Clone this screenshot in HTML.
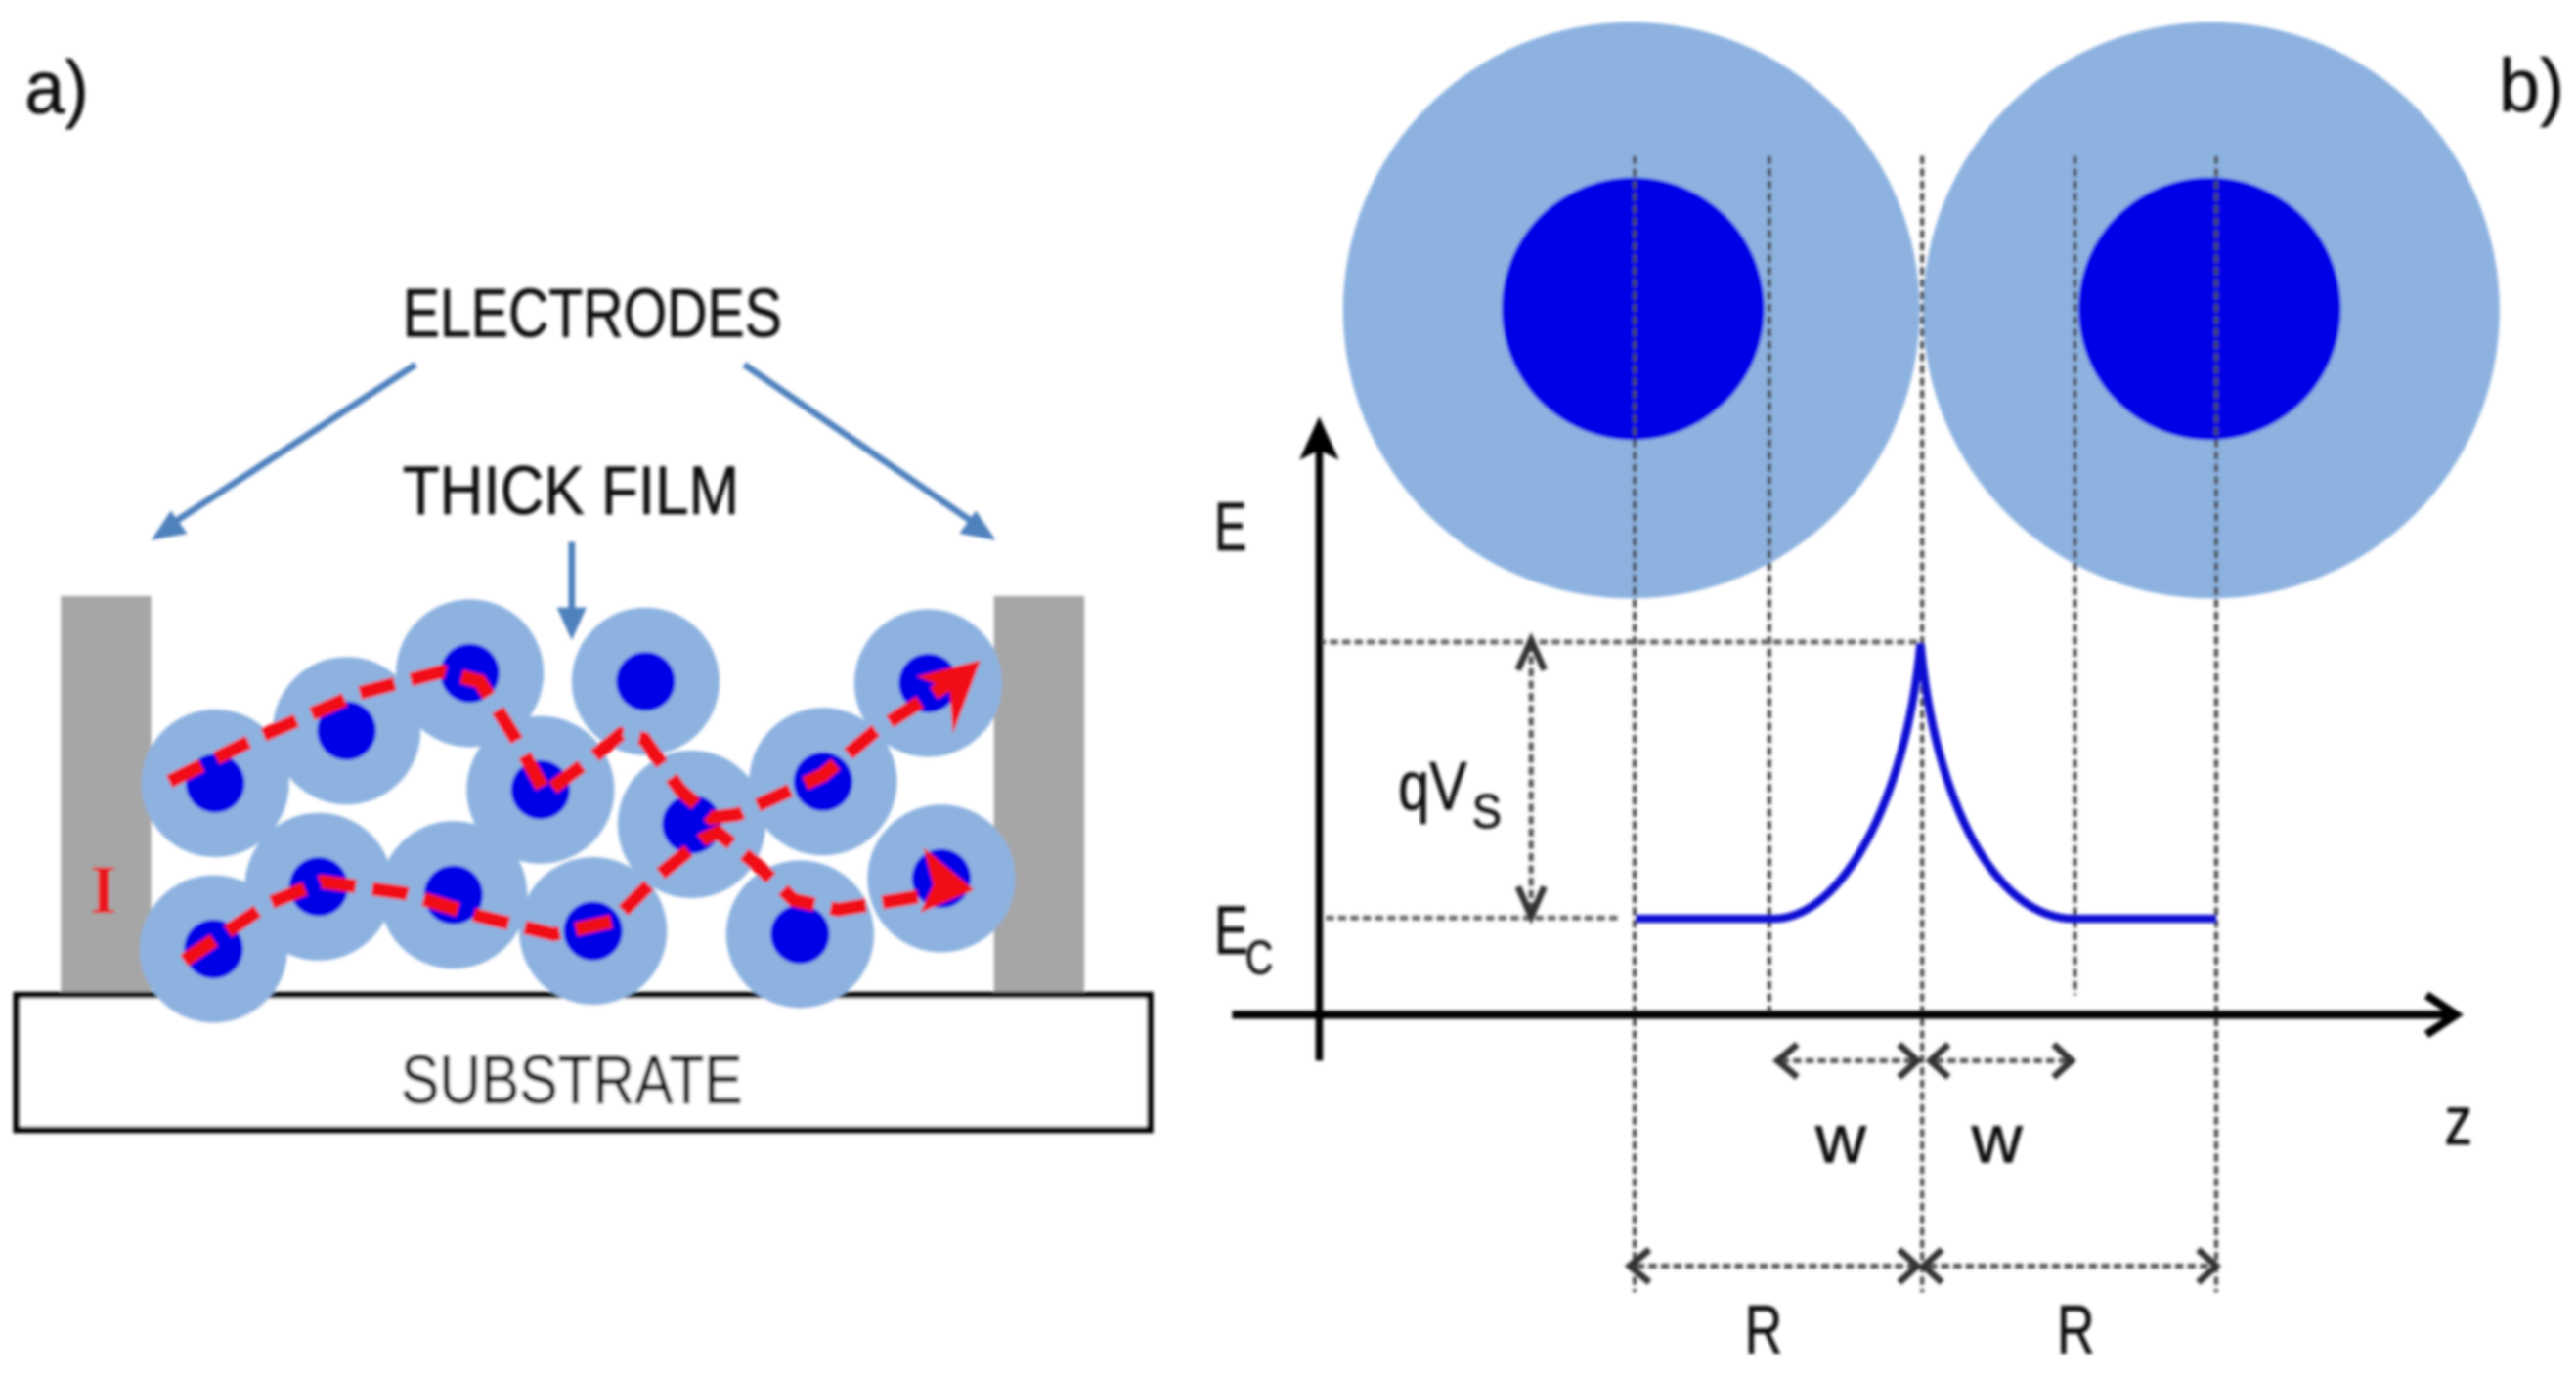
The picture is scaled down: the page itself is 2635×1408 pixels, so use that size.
<!DOCTYPE html>
<html><head><meta charset="utf-8"><style>
html,body{margin:0;padding:0;background:#fff;width:2635px;height:1408px;overflow:hidden}
svg{display:block}
text{font-family:"Liberation Sans",sans-serif;fill:#111;stroke:#111;stroke-width:.35}
</style></head><body>
<svg xmlns="http://www.w3.org/2000/svg" width="2635" height="1408" viewBox="0 0 1568 838" preserveAspectRatio="none">
<defs>
<filter id="b" x="-5%" y="-5%" width="110%" height="110%"><feGaussianBlur stdDeviation="1"/></filter>
<g id="p"><circle r="45" fill="#8db2e0"/><circle r="18" fill="#0000e6"/></g>
</defs>
<rect width="1568" height="838" fill="#fff"/>
<g filter="url(#b)">
<!-- panel b circles -->
<circle cx="993" cy="189" r="175.500" fill="#8db2e0"/>
<circle cx="1346" cy="189" r="175.500" fill="#8db2e0"/>
<circle cx="994" cy="188" r="80" fill="#0000e6"/>
<circle cx="1345" cy="188" r="80" fill="#0000e6"/>

<!-- dashed guides -->
<g stroke="#444" stroke-width="2.400" stroke-dasharray="5 2.500" fill="none">
<path d="M995 95V787M1077 95V619M1170 95V787M1263 95V606M1349 95V787"/>
<path d="M802 391H1169M807 559H985" stroke="#666" stroke-width="3"/>
<path d="M932 392V556M1084 646H1165M1178 646H1258M996 771H1164M1174 771H1346" stroke="#555" stroke-width="3"/>
</g>
<g stroke="#333" stroke-width="4" fill="none">
<path d="M924 408L932 390L940 408M924 540L932 558L940 540"/>
<path d="M1094 636L1082 646L1094 656M1156 636L1167 646L1156 656"/>
<path d="M1186 636L1175 646L1186 656M1250 636L1261 646L1250 656"/>
<path d="M1004 761L992 771L1004 781M1156 761L1167 771L1156 781"/>
<path d="M1182 761L1171 771L1182 781M1338 761L1349 771L1338 781"/>
</g>

<!-- energy curve -->
<path d="M996 559.500H1080C1120 559 1160 490 1169 392C1178 490 1215 559 1262 559.500H1349" fill="none" stroke="#0a0ad2" stroke-width="5"/>

<!-- axes -->
<path d="M803 270V646" stroke="#000" stroke-width="4.500"/>
<path d="M750 618H1490" stroke="#000" stroke-width="5"/>
<path d="M793 278L803 256L813 278L803 273Z" fill="#000" stroke="#000" stroke-width="2"/>
<path d="M1477 606L1495 618L1477 630" fill="none" stroke="#000" stroke-width="5"/>

<!-- electrodes and substrate -->
<rect x="37" y="363" width="55" height="244" fill="#a6a6a6"/>
<rect x="605" y="363" width="55" height="244" fill="#a6a6a6"/>
<rect x="10" y="606" width="690" height="82" fill="#fff" stroke="#000" stroke-width="4"/>

<!-- panel b labels -->
<text x="739" y="335" font-size="42" textLength="20" lengthAdjust="spacingAndGlyphs">E</text>
<text x="739" y="581" font-size="42" textLength="21" lengthAdjust="spacingAndGlyphs">E</text>
<text x="758" y="593" font-size="29" textLength="17" lengthAdjust="spacingAndGlyphs">C</text>
<text x="851" y="493" font-size="42" textLength="42" lengthAdjust="spacingAndGlyphs">qV</text>
<text x="896" y="504" font-size="29" textLength="18" lengthAdjust="spacingAndGlyphs">S</text>
<text x="1105" y="708" font-size="42" textLength="31" lengthAdjust="spacingAndGlyphs">w</text>
<text x="1200" y="708" font-size="42" textLength="31" lengthAdjust="spacingAndGlyphs">w</text>
<text x="1488" y="697" font-size="42" textLength="17" lengthAdjust="spacingAndGlyphs">z</text>
<text x="1062" y="824" font-size="42" textLength="23" lengthAdjust="spacingAndGlyphs">R</text>
<text x="1252" y="824" font-size="42" textLength="23" lengthAdjust="spacingAndGlyphs">R</text>
<text x="1521" y="68" font-size="46" textLength="40" lengthAdjust="spacingAndGlyphs">b)</text>
<text x="15" y="69" font-size="46" textLength="39" lengthAdjust="spacingAndGlyphs">a)</text>

<!-- panel a labels / arrows -->
<text x="245" y="205" font-size="42" textLength="231" lengthAdjust="spacingAndGlyphs">ELECTRODES</text>
<text x="245" y="313" font-size="42" textLength="205" lengthAdjust="spacingAndGlyphs">THICK FILM</text>
<text x="244" y="672" font-size="42" textLength="208" lengthAdjust="spacingAndGlyphs">SUBSTRATE</text>
<g stroke="#4f81bd" stroke-width="4" fill="none">
<path d="M253 222L100 322"/>
<path d="M453 222L598 322"/>
<path d="M348 330V378"/>
</g>
<g fill="#4f81bd">
<path d="M92 329L104 311L114 325Z"/>
<path d="M606 329L584 325L594 311Z"/>
<path d="M348 390L339 370L357 370Z"/>
</g>

<!-- particles -->
<use href="#p" x="131" y="477"/>
<use href="#p" x="211" y="445"/>
<use href="#p" x="329" y="481"/>
<use href="#p" x="286" y="410"/>
<use href="#p" x="393" y="415"/>
<use href="#p" x="421" y="502"/>
<use href="#p" x="501" y="476"/>
<use href="#p" x="565" y="416"/>
<use href="#p" x="573" y="535"/>
<use href="#p" x="194" y="540"/>
<use href="#p" x="276" y="545"/>
<use href="#p" x="361" y="567"/>
<use href="#p" x="487" y="569"/>
<use href="#p" x="130" y="578"/>

<!-- red dashed current paths -->
<g fill="none" stroke="#f00a14" stroke-width="8.500" stroke-dasharray="22 10">
<path d="M103 476L155 450L219 422L269 409L292 415L314 450L332 483L360 462L378 447L392 450L414 481L433 498L449 496L501 472L533 445L578 416"/>
<path d="M112 585L164 550L196 537L246 544L292 558L337 569L373 561L401 533L428 511L437 507L460 526L483 548L510 554L578 543"/>
</g>
<path d="M597 402L558 412L578 420L580 447Z" fill="#f00a14"/>
<path d="M593 542L562 516L568 539L560 556Z" fill="#f00a14"/>
<text x="55" y="556" font-size="42" font-weight="bold" textLength="16" lengthAdjust="spacingAndGlyphs" style="font-family:'Liberation Serif',serif;fill:#e8141e;stroke:none">I</text>
</g>
</svg>
</body></html>
